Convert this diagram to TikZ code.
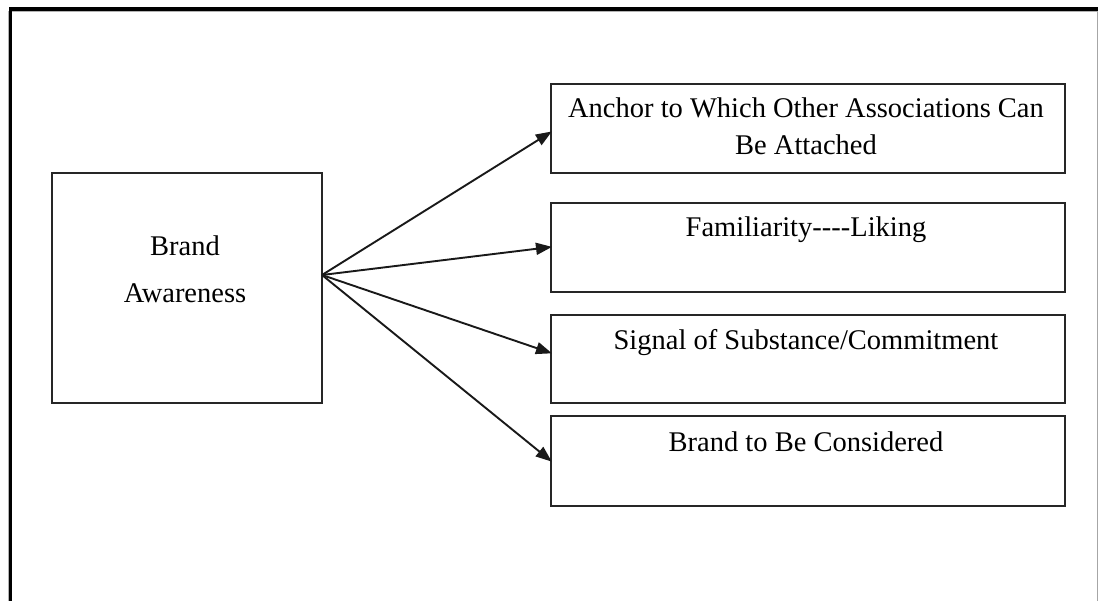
\documentclass[tikz,border=0pt]{standalone}
\usepackage{fontspec}
\setmainfont{Liberation Serif}
\usetikzlibrary{arrows.meta}
\begin{document}
\begin{tikzpicture}[x=1pt,y=-1pt,
  box/.style={draw=black!85, line width=1.8pt, minimum width=#1, inner sep=0pt, outer sep=0pt},
  box/.default=514pt,
  lbl/.style={anchor=base, inner sep=0pt, font=\fontsize{28.5}{34}\selectfont},
  link/.style={draw=black!90, line width=1.9pt, -{Triangle[length=16pt,width=12pt]}, shorten >=-1pt}
]
\useasboundingbox (0,0) rectangle (1098,601);
% outer frame
\draw[gray!70, line width=1pt] (1097.5,9) -- (1097.5,601);
\draw[gray!60, line width=1pt] (8,601) -- (8,12) -- (1098,12);
\draw[black, line width=3.5pt] (10.5,601) -- (10.5,9) -- (1098,9);

% source box
\node[box=270pt, minimum height=230pt] (b0) at (187,288) {};
\node[lbl] (t0a) at (185,255.5) {Brand};
\node[lbl] (t0b) at (185,302.5) {Awareness};

% target boxes
\node[box, minimum height=89pt] (b1) at (808,128.5) {};
\node[box, minimum height=89pt] (b2) at (808,247.5) {};
\node[box, minimum height=88pt] (b3) at (808,359) {};
\node[box, minimum height=90pt] (b4) at (808,461) {};

\node[lbl] (t1a) at (806,118) {Anchor to Which Other Associations Can};
\node[lbl] (t1b) at (806,155) {Be Attached};
\node[lbl] (t2) at (806,236.5) {Familiarity-{}-{}-{}-Liking};
\node[lbl] (t3) at (806,349.5) {Signal of Substance/Commitment};
\node[lbl] (t4) at (806,451) {Brand to Be Considered};

% connectors
\coordinate (src) at ([yshift=13pt]b0.east);
\draw[link] (src) -- ([yshift=-3.5pt]b1.west);
\draw[link] (src) -- ([yshift=0.5pt]b2.west);
\draw[link] (src) -- ([yshift=6pt]b3.west);
\draw[link] (src) -- (b4.west);
\end{tikzpicture}
\end{document}
